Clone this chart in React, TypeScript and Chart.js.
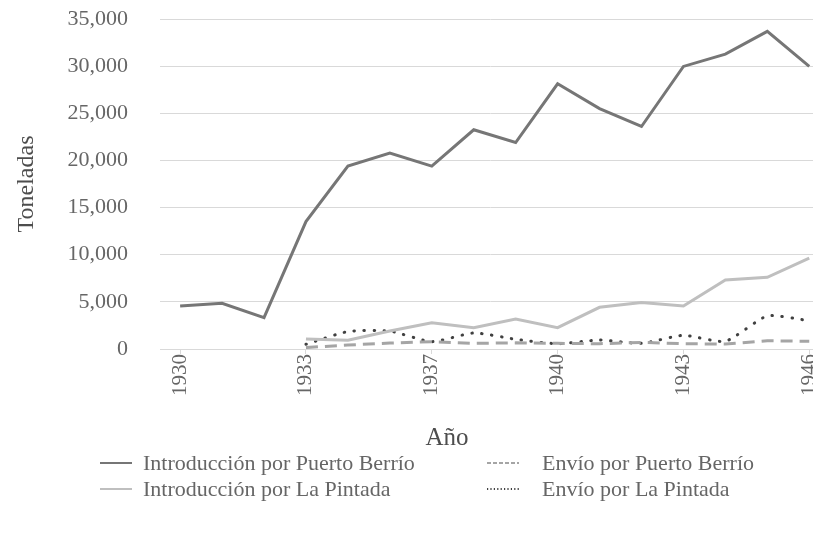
import React, { useEffect, useRef } from "react";
import { Chart, registerables } from "chart.js";

Chart.register(...registerables);

const FONT = "'Liberation Serif', 'Times New Roman', serif";
const TEXT_COLOR = "#666666";

// Category labels (one year missing in the source series between 1933 and 1937)
const years = ["1930", "1931", "1932", "1933", "1934", "1935", "1937", "1938", "1939", "1940", "1941", "1942", "1943", "1944", "1945", "1946"];
const labelIndexes = [0, 3, 6, 9, 12, 15];

const introPuertoBerrio = [4560, 4850, 3330, 13510, 19400, 20780, 19400, 23250, 21900, 28130, 25500, 23600, 29970, 31270, 33690, 29970];
const introLaPintada = [null, null, null, 1060, 920, 1900, 2790, 2260, 3180, 2260, 4420, 4920, 4570, 7330, 7610, 9630];
const envioPuertoBerrio = [null, null, null, 150, 420, 630, 780, 600, 650, 600, 560, 700, 560, 520, 870, 820];
const envioLaPintada = [null, null, null, 500, 1850, 1900, 780, 1700, 1030, 560, 950, 600, 1450, 820, 3500, 3000];

const yMin = 0;
const yMax = 35000;
const yStep = 5000;

const seriesNames = [
  "Introducción por Puerto Berrío",
  "Introducción por La Pintada",
  "Envío por Puerto Berrío",
  "Envío por La Pintada",
];
const seriesColors = ["#767676", "#bfbfbf", "#a5a5a5", "#404040"];

const toPoints = (arr: (number | null)[]) => arr.map((y, i) => ({ x: i, y }));

function LegendSample({ kind, color }: { kind: string; color: string }) {
  const dash = kind === "dash" ? "4 2" : kind === "dot" ? "1.2 2.2" : undefined;
  return (
    <svg width={32} height={6} style={{ display: "block" }}>
      <line x1={0} y1={3} x2={32} y2={3} stroke={color} strokeWidth={2} strokeDasharray={dash} />
    </svg>
  );
}

export default function App() {
  const ref = useRef<HTMLCanvasElement>(null);

  useEffect(() => {
    const canvas = ref.current;
    if (!canvas) return;
    Chart.defaults.font.family = FONT;
    const chart = new Chart(canvas, {
      type: "line",
      data: {
        datasets: [
          {
            label: seriesNames[0],
            data: toPoints(introPuertoBerrio),
            borderColor: seriesColors[0],
            backgroundColor: seriesColors[0],
            borderWidth: 3,
            pointRadius: 0,
            tension: 0,
          },
          {
            label: seriesNames[1],
            data: toPoints(introLaPintada),
            borderColor: seriesColors[1],
            backgroundColor: seriesColors[1],
            borderWidth: 3,
            pointRadius: 0,
            tension: 0,
          },
          {
            label: seriesNames[2],
            data: toPoints(envioPuertoBerrio),
            borderColor: seriesColors[2],
            backgroundColor: seriesColors[2],
            borderWidth: 3,
            borderDash: [12, 7],
            pointRadius: 0,
            tension: 0,
          },
          {
            label: seriesNames[3],
            data: toPoints(envioLaPintada),
            borderColor: seriesColors[3],
            backgroundColor: seriesColors[3],
            borderWidth: 3,
            borderDash: [0.5, 9.5],
            borderCapStyle: "round",
            pointRadius: 0,
            tension: 0.2,
          },
        ],
      },
      options: {
        responsive: false,
        animation: false,
        layout: { padding: { top: 19, right: 0, bottom: 0, left: 0 } },
        plugins: {
          legend: { display: false },
          tooltip: { enabled: false },
        },
        scales: {
          x: {
            type: "linear",
            min: -0.48,
            max: 15.28,
            afterBuildTicks: (axis: any) => {
              axis.ticks = labelIndexes.map((v) => ({ value: v }));
            },
            afterFit: (axis: any) => {
              axis.height = 207;
              axis.paddingLeft = 0;
              axis.paddingRight = 0;
            },
            ticks: {
              autoSkip: false,
              minRotation: 90,
              maxRotation: 90,
              padding: 0,
              color: TEXT_COLOR,
              font: { size: 21, family: FONT },
              callback: (v: any) => years[v as number],
            },
            grid: {
              drawOnChartArea: false,
              drawTicks: true,
              tickLength: 5,
              color: "#d9d9d9",
            },
            border: { display: true, color: "#d9d9d9" },
          },
          y: {
            min: yMin,
            max: yMax,
            afterFit: (axis: any) => {
              axis.width = 160;
              axis.paddingTop = 0;
              axis.paddingBottom = 0;
            },
            ticks: {
              stepSize: yStep,
              padding: 32,
              color: TEXT_COLOR,
              font: { size: 22, family: FONT },
              callback: (v: any) => Number(v).toLocaleString("en-US"),
            },
            grid: { color: "#d9d9d9", drawTicks: false, lineWidth: 1 },
            border: { display: false },
            title: {
              display: true,
              text: "Toneladas",
              color: "#4d4d4d",
              font: { size: 24, family: FONT },
              padding: { top: 12, bottom: 0 },
            },
          },
        },
      },
    } as any);
    return () => chart.destroy();
  }, []);

  const legendRows = [
    { y: 463, items: [0, 2] },
    { y: 489, items: [1, 3] },
  ];
  const colX = [{ sample: 100, text: 143 }, { sample: 487, text: 542 }];
  const kinds = ["solid", "solid", "dash", "dot"];

  return (
    <div
      style={{
        position: "relative",
        width: 821,
        height: 556,
        margin: -8,
        overflow: "hidden",
        background: "#ffffff",
        fontFamily: FONT,
      }}
    >
      <canvas ref={ref} width={821} height={556} style={{ position: "absolute", left: 0, top: 0 }} />
      <div
        style={{
          position: "absolute",
          left: 447,
          top: 437,
          transform: "translate(-50%, -50%)",
          fontSize: 25,
          color: "#4d4d4d",
          whiteSpace: "nowrap",
        }}
      >
        Año
      </div>
      {legendRows.map((row) =>
        row.items.map((idx, c) => (
          <React.Fragment key={idx}>
            <div style={{ position: "absolute", left: colX[c].sample, top: row.y - 3 }}>
              <LegendSample kind={kinds[idx]} color={seriesColors[idx]} />
            </div>
            <div
              style={{
                position: "absolute",
                left: colX[c].text,
                top: row.y,
                transform: "translateY(-50%)",
                fontSize: 22,
                color: TEXT_COLOR,
                whiteSpace: "nowrap",
                lineHeight: 1,
              }}
            >
              {seriesNames[idx]}
            </div>
          </React.Fragment>
        ))
      )}
    </div>
  );
}
